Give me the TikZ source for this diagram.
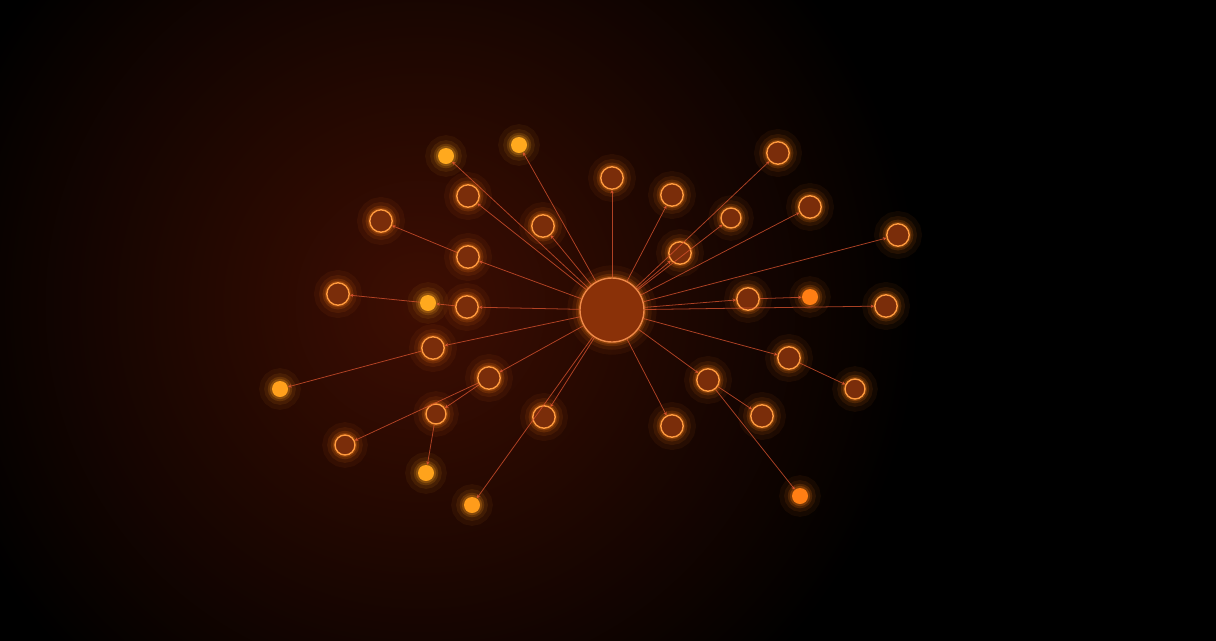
\documentclass[tikz,border=0pt]{standalone}
\usepackage{tikz}
\usetikzlibrary{arrows.meta}

\definecolor{bgglow}{HTML}{3E0E02}
\definecolor{hubfill}{HTML}{8A3108}
\definecolor{hubline}{HTML}{F08A48}
\definecolor{peerfill}{HTML}{7A2D0A}
\definecolor{peerline}{HTML}{FF9A3E}
\definecolor{dotyel}{HTML}{FFA91E}
\definecolor{dotorg}{HTML}{FF7E14}
\definecolor{edge}{HTML}{DE5530}

\tikzset{
  glow/.style={preaction={draw=#1, draw opacity=.06, line width=18pt},
               preaction={draw=#1, draw opacity=.09, line width=11pt},
               preaction={draw=#1, draw opacity=.16, line width=6pt},
               preaction={draw=#1, draw opacity=.24, line width=3pt}},
  hub/.style={circle, draw=hubline, fill=hubfill, line width=1pt, minimum size=1.6cm, inner sep=0pt, glow=dotorg},
  peer/.style={circle, draw=peerline, fill=peerfill, line width=1pt, minimum size=0.56cm, inner sep=0pt, glow=dotorg},
  dot/.style={circle, fill=#1, minimum size=0.4cm, inner sep=0pt, glow=#1},
  link/.style={draw=edge, draw opacity=.75, line width=.55pt, -{Stealth[length=2.5pt,width=2.5pt]}}
}

\begin{document}
\begin{tikzpicture}[x=0.025cm,y=-0.025cm]
        \useasboundingbox (0,0) rectangle (1216,640);
        \fill[black] (-10,-10) rectangle (1226,650);
        \begin{scope}
        \clip (-10,-10) rectangle (1226,650);
        \shade[inner color=bgglow, outer color=black] (420,305) circle (500);
        \end{scope}
        % hub
        \node[hub] (hub) at (612,310) {};
        % ring of peers
        \node[peer] (p1) at (612,178) {};
        \node[peer] (p2) at (672,195) {};
        \node[peer] (p3) at (543,226) {};
        \node[peer] (p4) at (468,196) {};
        \node[peer] (p5) at (381,221) {};
        \node[peer] (p6) at (468,257) {};
        \node[peer] (p7) at (338,294) {};
        \node[peer] (p8) at (467,307) {};
        \node[peer] (p9) at (433,348) {};
        \node[peer] (p10) at (489,378) {};
        \node[peer, minimum size=0.5cm] (p11) at (436,414) {};
        \node[peer, minimum size=0.5cm] (p12) at (345,445) {};
        \node[peer] (p13) at (544,417) {};
        \node[peer] (p14) at (672,426) {};
        \node[peer] (p15) at (708,380) {};
        \node[peer] (p16) at (762,416) {};
        \node[peer] (p17) at (789,358) {};
        \node[peer, minimum size=0.5cm] (p18) at (855,389) {};
        \node[peer] (p19) at (748,299) {};
        \node[peer] (p20) at (886,306) {};
        \node[peer] (p21) at (898,235) {};
        \node[peer] (p22) at (810,207) {};
        \node[peer, minimum size=0.5cm] (p23) at (731,218) {};
        \node[peer] (p24) at (778,153) {};
        \node[peer] (p25) at (680,253) {};
        % small dots
        \node[dot=dotyel] (d1) at (446,156) {};
        \node[dot=dotyel] (d2) at (519,145) {};
        \node[dot=dotyel] (d3) at (428,303) {};
        \node[dot=dotyel!80!dotorg] (d4) at (280,389) {};
        \node[dot=dotyel!85!dotorg] (d5) at (426,473) {};
        \node[dot=dotyel!70!dotorg] (d6) at (472,505) {};
        \node[dot=dotorg] (d7) at (800,496) {};
        \node[dot=dotorg] (d8) at (810,297) {};
        % links
        \foreach \t in {p1,p2,p3,p4,p6,p8,p9,p10,p13,p14,p15,p17,p19,p20,p21,p22,p23,p24,p25,d1,d2,d6}
          \draw[link] (hub) -- (\t);
        \draw[link] (p6) -- (p5);
        \draw[link] (p8) -- (d3);
        \draw[link] (d3) -- (p7);
        \draw[link] (p9) -- (d4);
        \draw[link] (p10) -- (p11);
        \draw[link] (p10) -- (p12);
        \draw[link] (p11) -- (d5);
        \draw[link] (p15) -- (p16);
        \draw[link] (p15) -- (d7);
        \draw[link] (p17) -- (p18);
        \draw[link] (p19) -- (d8);
\end{tikzpicture}
\end{document}
